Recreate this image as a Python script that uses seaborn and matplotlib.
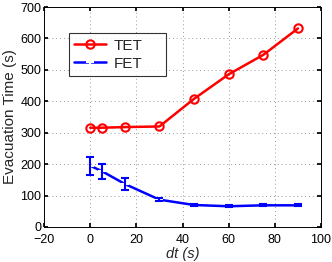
import numpy as np
import pandas as pd
import seaborn as sns
import matplotlib
matplotlib.use("Agg")
import matplotlib.pyplot as plt

# data
dt = [0, 5, 15, 30, 45, 60, 75, 90]
tet = [316, 316, 318, 320, 408, 486, 548, 632]
fet = [195, 178, 137, 87, 70, 66, 69, 69]
fet_err = [29, 24, 18, 5, 4, 3, 3, 3]

df = pd.DataFrame({"dt": dt, "TET": tet, "FET": fet})

sns.set_theme(style="white")
plt.rcParams["font.family"] = ["Liberation Sans", "DejaVu Sans"]

fig = plt.figure(figsize=(3.32, 2.62), dpi=100)
ax = fig.add_axes([0.1325, 0.1336, 0.8345, 0.8394])

sns.lineplot(data=df, x="dt", y="TET", ax=ax, color="#ff0000", lw=1.8,
             marker="o", markersize=6, markerfacecolor="none",
             markeredgecolor="#ff0000", markeredgewidth=1.5, label="TET")
sns.lineplot(data=df, x="dt", y="FET", ax=ax, color="#0000ff", lw=1.8,
             marker="+", markersize=6, markeredgewidth=1.5, label="FET")
ax.errorbar(dt, fet, yerr=fet_err, fmt="none", ecolor="#0000ff",
            elinewidth=1.5, capsize=3, capthick=1.5)

ax.set_xlim(-20, 100)
ax.set_ylim(0, 700)
ax.set_xticks(np.arange(-20, 101, 20))
ax.set_yticks(np.arange(0, 701, 100))
ax.grid(True, linestyle=(0, (1, 3)), color="#999999", lw=0.7)
for s in ax.spines.values():
    s.set_color("black")
    s.set_linewidth(0.7)
ax.tick_params(axis="both", labelsize=9, direction="in", length=3,
               color="black", labelcolor="black")
ax.tick_params(axis="x", pad=5)
ax.tick_params(axis="y", pad=2)
ax.tick_params(bottom=True, left=True, top=True, right=True)

ax.set_xlabel("dt (s)", fontsize=10.5, style="italic", labelpad=1)
ax.set_ylabel("Evacuation Time (s)", fontsize=11, labelpad=2)

leg = ax.legend(loc="upper left", bbox_to_anchor=(0.09, 0.685, 0.35, 0.195),
                mode="expand", fontsize=11, frameon=True, fancybox=False,
                borderaxespad=0, handlelength=2.1, handletextpad=0.5,
                borderpad=0.35, labelspacing=0.25)
leg.get_frame().set_edgecolor("black")
leg.get_frame().set_linewidth(0.8)

fig.savefig("out.png", dpi=100)
